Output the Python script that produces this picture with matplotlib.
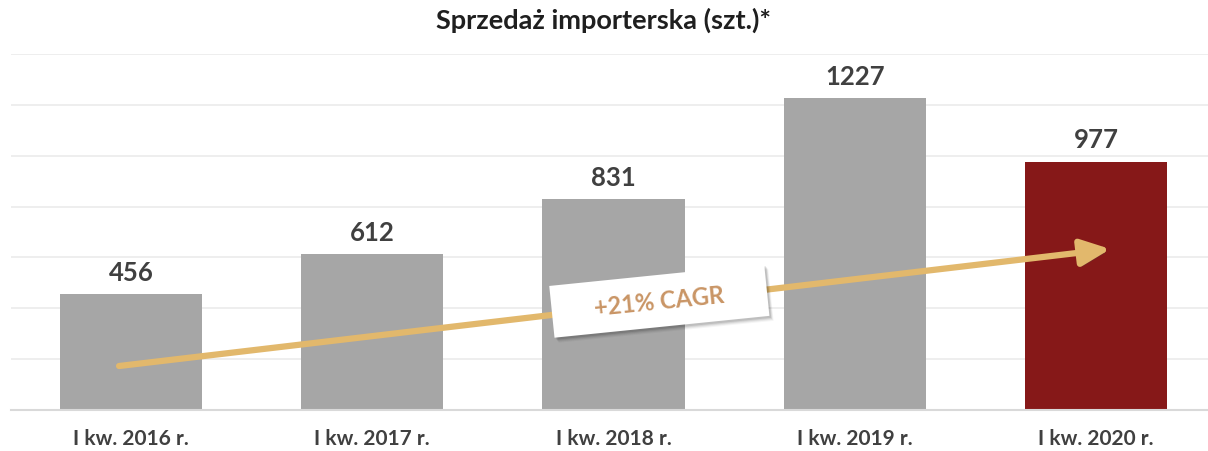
import matplotlib
matplotlib.use("Agg")
import matplotlib.pyplot as plt
import matplotlib.patheffects as pe
import matplotlib.transforms as mtransforms
from matplotlib.patches import Rectangle

plt.rcParams['font.family'] = ['Lato', 'DejaVu Sans']

categories = ["I kw. 2016 r.", "I kw. 2017 r.", "I kw. 2018 r.", "I kw. 2019 r.", "I kw. 2020 r."]
values = [456, 612, 831, 1227, 977]
bar_colors = ["#A6A6A6", "#A6A6A6", "#A6A6A6", "#A6A6A6", "#861818"]
title = "Sprzedaż importerska (szt.)*"
cagr_label = "+21% CAGR"
arrow_start = (-0.05, 173)
arrow_end = (4.06, 633)

fig = plt.figure(figsize=(12.08, 4.52), dpi=100)
ax = fig.add_axes([10.5 / 1208, 41 / 452, 1206 / 1208, 356 / 452])

x = range(len(categories))
ax.bar(x, values, width=0.59, color=bar_colors, zorder=2)
for i, v in enumerate(values):
    ax.text(i, v + 40, str(v), ha="center", va="bottom", fontsize=18.5,
            fontweight="bold", color="#404040")

ax.set_xlim(-0.5, 4.5)
ax.set_ylim(0, 1400)
ax.set_yticks(range(0, 1401, 200))
ax.yaxis.grid(True, color="#EBEBEB", lw=1.2, zorder=0)
ax.tick_params(axis="y", left=False, labelleft=False)
ax.tick_params(axis="x", length=0, pad=13)
ax.set_xticks(list(x))
ax.set_xticklabels(categories, fontsize=15, fontweight="bold", color="#404040")
for s in ["top", "right", "left"]:
    ax.spines[s].set_visible(False)
ax.spines["bottom"].set_color("#D9D9D9")
ax.spines["bottom"].set_linewidth(1.5)

fig.text(0.5, 1 - 20 / 452, title, ha="center", va="center", fontsize=19.5,
         fontweight="bold", color="#1F1F1F")

# growth arrow
arr = ax.annotate("", xy=arrow_end, xytext=arrow_start,
                  arrowprops=dict(arrowstyle="-|>,head_length=1.1,head_width=0.5",
                                  color="#E2B86C", lw=4.5, mutation_scale=16,
                                  shrinkA=0, shrinkB=0),
                  zorder=4)
arr.arrow_patch.set_path_effects([pe.SimplePatchShadow(offset=(2, -2), alpha=0.3,
                                                       shadow_rgbFace="#444444"), pe.Normal()])

# CAGR label box (rotated rectangle, size in inches)
mx, my = 2.19, 429
angle = 5.8
bw, bh = 2.16, 0.52
center = mtransforms.ScaledTranslation(mx, my, ax.transData)
box_tr = (mtransforms.Affine2D().translate(-bw / 2, -bh / 2).rotate_deg(angle)
          + fig.dpi_scale_trans + center)
for k, a in [(1, 0.10), (2, 0.08), (3, 0.06), (4, 0.04)]:
    sh = mtransforms.Affine2D().translate(0.01 * k + 0.01, -0.012 * k - 0.01)
    ax.add_patch(Rectangle((0, 0), bw, bh, transform=box_tr + mtransforms.ScaledTranslation(
        0.008 * k + 0.01, -0.01 * k - 0.01, fig.dpi_scale_trans),
        fc="black", ec="none", alpha=a, zorder=5))
ax.add_patch(Rectangle((0, 0), bw, bh, transform=box_tr, fc="white", ec="none", zorder=6))
ax.text(mx, my, cagr_label, ha="center", va="center", rotation=angle,
        rotation_mode="anchor", fontsize=17, fontweight="bold", color="#C99565", zorder=7)

fig.savefig("out.png", dpi=100)
